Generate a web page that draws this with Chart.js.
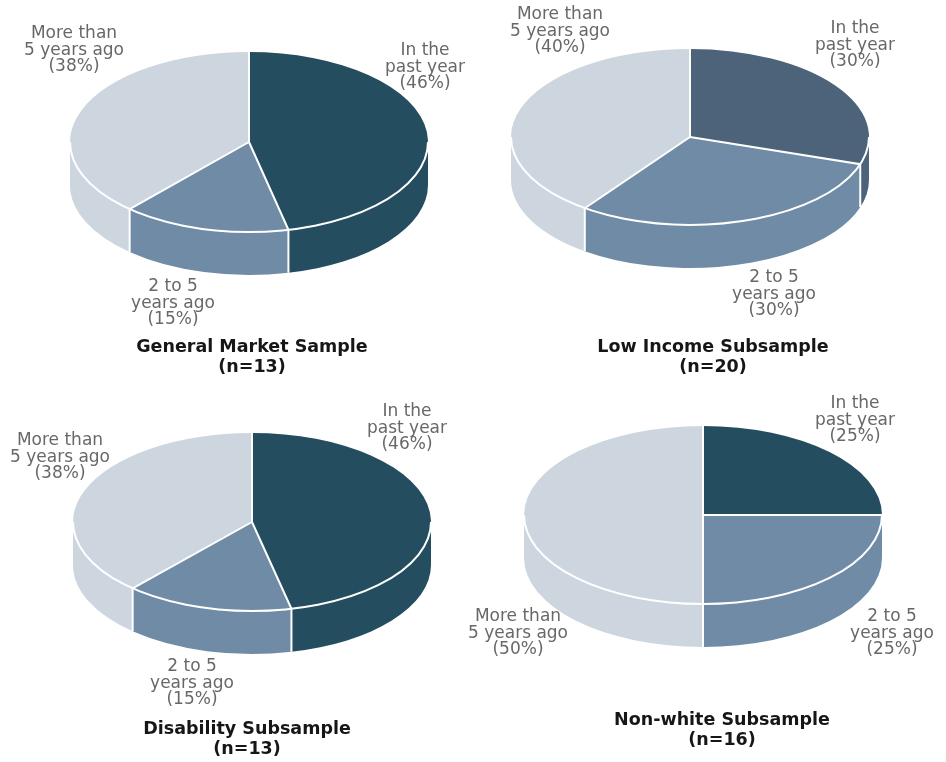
<!DOCTYPE html>
<html>
<head>
<meta charset="utf-8">
<script src="https://cdn.jsdelivr.net/npm/chart.js@4/dist/chart.umd.min.js"></script>
<style>
  html, body { margin: 0; padding: 0; background: #ffffff; }
  #page { position: relative; width: 946px; height: 762px; overflow: hidden; }
  #page canvas { position: absolute; left: 0; top: 0; }
</style>
</head>
<body>
<div id="page">
  <canvas id="general" width="946" height="762"></canvas>
  <canvas id="lowIncome" width="946" height="762"></canvas>
  <canvas id="disability" width="946" height="762"></canvas>
  <canvas id="nonWhite" width="946" height="762"></canvas>
</div>
<script>
// Categories (each split into the two lines printed beside its slice)
const categoryLines = [['In the', 'past year'], ['2 to 5', 'years ago'], ['More than', '5 years ago']];

// Share of respondents per category, in percent
const generalMarketValues = [46, 15, 38];
const lowIncomeValues = [30, 30, 40];
const disabilityValues = [46, 15, 38];
const nonWhiteValues = [25, 25, 50];

// Panel titles and sample sizes
const sampleNames = ['General Market Sample', 'Low Income Subsample', 'Disability Subsample', 'Non-white Subsample'];
const sampleSizes = [13, 20, 13, 16];

// Styling
const MID = '#6f8ba5';
const LIGHT = '#cdd6df';
const LABEL_COLOR = '#686868';
const TITLE_COLOR = '#161616';
const RX = 179;       // horizontal radius of the pie
const DEPTH = 43;     // thickness of the pie wall
const FONT = '"DejaVu Sans", Verdana, sans-serif';

// Page layout of each panel: pie centre, vertical radius, label anchors (page px)
const panels = [
  { canvas: 'general', values: generalMarketValues, center: [249, 142], ry: 90,
    dark: '#244e60', labels: [[425, 51], [173, 287], [74, 34]], title: [252, 347] },
  { canvas: 'lowIncome', values: lowIncomeValues, center: [690, 137], ry: 88,
    dark: '#4c6379', labels: [[855, 29], [774, 278], [560, 15]], title: [713, 347] },
  { canvas: 'disability', values: disabilityValues, center: [252, 522], ry: 89,
    dark: '#244e60', labels: [[407, 412], [192, 667], [60, 441]], title: [247, 729] },
  { canvas: 'nonWhite', values: nonWhiteValues, center: [703, 515], ry: 89,
    dark: '#244e60', labels: [[855, 404], [892, 617], [518, 617]], title: [722, 720] }
];

// Turns the flat Chart.js pie into a tilted disc: walls under the front rim,
// a vertically squashed top face and white seams between the slices.
const pie3d = {
  id: 'pie3d',
  beforeDatasetsDraw(chart, args, opts) {
    const ctx = chart.ctx;
    const arcs = chart.getDatasetMeta(0).data;
    const [cx, cy] = opts.center;
    const ry = opts.ry, d = opts.depth;
    const colors = chart.data.datasets[0].backgroundColor;
    arcs.forEach((arc, i) => {
      const r = arc.outerRadius;
      const s = arc.startAngle, e = arc.endAngle;
      for (let n = -1; n <= 1; n++) {
        const lo = Math.max(s, 2 * Math.PI * n);
        const hi = Math.min(e, 2 * Math.PI * n + Math.PI);
        if (hi > lo) {
          ctx.beginPath();
          ctx.ellipse(cx, cy, r, ry, 0, lo, hi, false);
          ctx.ellipse(cx, cy + d, r, ry, 0, hi, lo, true);
          ctx.closePath();
          ctx.fillStyle = colors[i];
          ctx.fill();
        }
      }
    });
    const a0 = arcs[0];
    ctx.save();
    ctx.translate(cx, cy);
    ctx.scale(1, ry / a0.outerRadius);
    ctx.translate(-a0.x, -a0.y);
  },
  afterDatasetsDraw(chart, args, opts) {
    const ctx = chart.ctx;
    ctx.restore();
    const arcs = chart.getDatasetMeta(0).data;
    const [cx, cy] = opts.center;
    const ry = opts.ry, d = opts.depth;
    const r = arcs[0].outerRadius;
    ctx.save();
    ctx.strokeStyle = '#ffffff';
    ctx.lineWidth = 2;
    ctx.beginPath();
    ctx.ellipse(cx, cy, r, ry, 0, 0, Math.PI, false);
    ctx.stroke();
    arcs.forEach(arc => {
      const t = arc.startAngle;
      const px = cx + r * Math.cos(t), py = cy + ry * Math.sin(t);
      ctx.beginPath();
      ctx.moveTo(cx, cy);
      ctx.lineTo(px, py);
      if (Math.sin(t) > 0.001) ctx.lineTo(px, py + d);
      ctx.stroke();
    });
    ctx.restore();
  },
  afterDraw(chart, args, opts) {
    const ctx = chart.ctx;
    const values = chart.data.datasets[0].data;
    ctx.save();
    ctx.textAlign = 'center';
    ctx.textBaseline = 'middle';
    ctx.fillStyle = LABEL_COLOR;
    ctx.font = '17px ' + FONT;
    opts.labels.forEach(([x, y], i) => {
      const lines = categoryLines[i].concat(['(' + values[i] + '%)']);
      lines.forEach((txt, j) => ctx.fillText(txt, x, y + j * 16.5));
    });
    ctx.fillStyle = TITLE_COLOR;
    ctx.font = 'bold 17.5px ' + FONT;
    const [tx, ty] = opts.title;
    ctx.fillText(opts.name, tx, ty);
    ctx.fillText('(n=' + opts.n + ')', tx, ty + 20.5);
    ctx.restore();
  }
};

panels.forEach((p, k) => {
  new Chart(document.getElementById(p.canvas), {
    type: 'pie',
    data: {
      labels: categoryLines.map(l => l.join(' ')),
      datasets: [{
        data: p.values,
        backgroundColor: [p.dark, MID, LIGHT],
        borderWidth: 0,
        radius: RX
      }]
    },
    options: {
      responsive: false,
      animation: false,
      devicePixelRatio: 1,
      events: [],
      radius: RX,
      plugins: {
        legend: { display: false },
        tooltip: { enabled: false },
        title: { display: false },
        pie3d: {
          center: p.center,
          ry: p.ry,
          depth: DEPTH,
          labels: p.labels,
          title: p.title,
          name: sampleNames[k],
          n: sampleSizes[k]
        }
      }
    },
    plugins: [pie3d]
  });
});
</script>
</body>
</html>
